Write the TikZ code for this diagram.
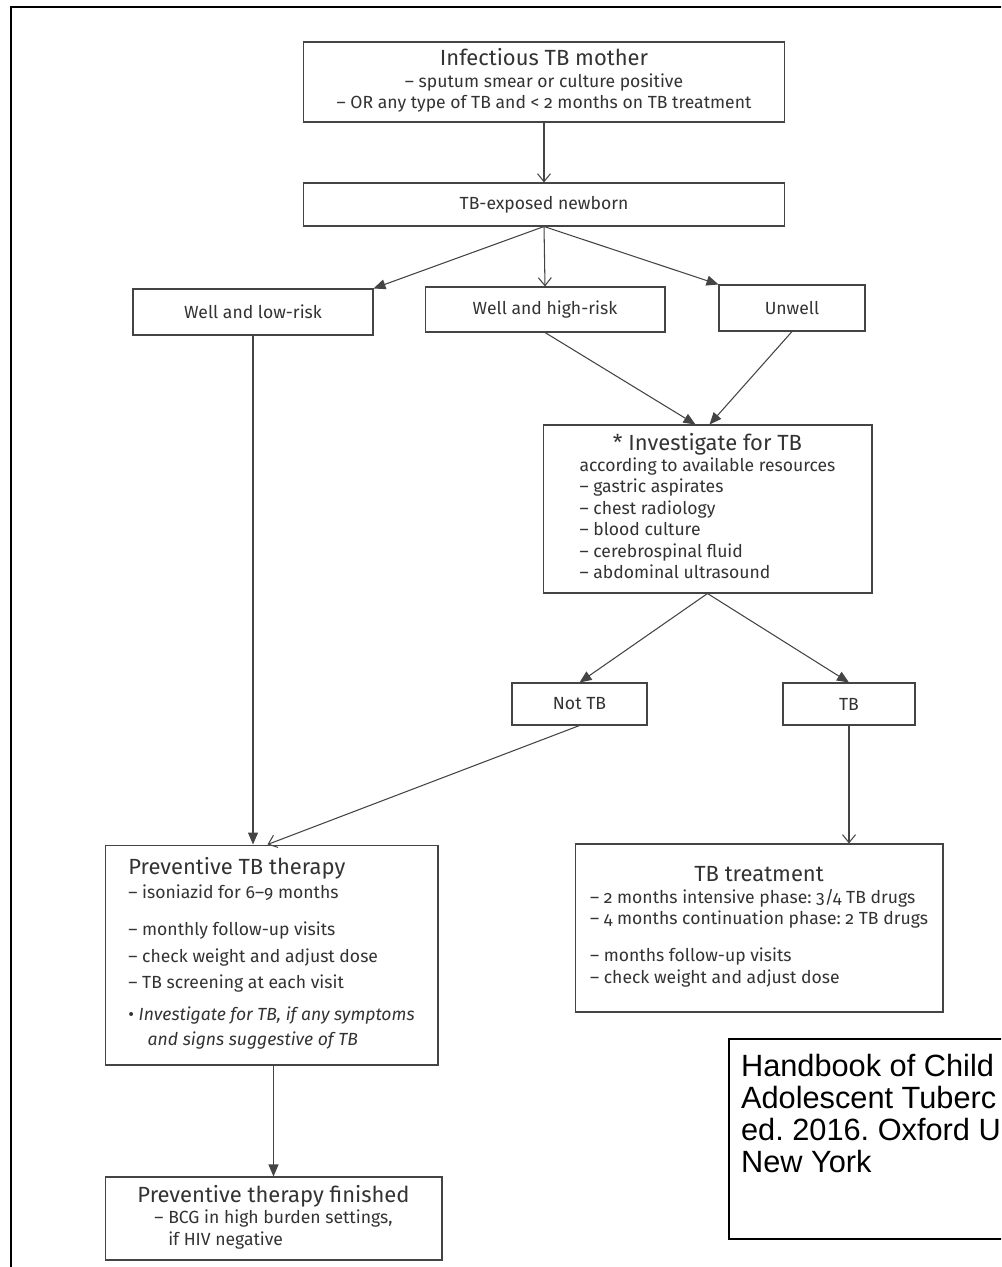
\documentclass[tikz,border=0pt]{standalone}
\usepackage{fontspec}
\setmainfont{Fira Sans}[Numbers=OldStyle]
\newfontfamily\citefont{Liberation Sans}
\usetikzlibrary{calc,arrows.meta,positioning}
\definecolor{inkc}{HTML}{333333}
\definecolor{linec}{HTML}{444444}
\newcommand{\ttl}{\fontsize{12.5}{15}\selectfont}
\tikzset{
  ar/.style={-{Triangle[length=2.4mm,width=2mm]},semithick,linec},
  arv/.style={-{Straight Barb[length=1.6mm,width=2.6mm]},semithick,linec},
  box/.style={draw=linec,semithick,fill=white,inner sep=0pt,text=inkc,
    font=\fontsize{10}{12.2}\selectfont}
}
\frenchspacing
\begin{document}
\begin{tikzpicture}[x=0.02cm,y=-0.02cm]
\useasboundingbox (0,0) rectangle (1001,1267);
\clip (0,0) rectangle (1001,1267);
\fill[white] (0,0) rectangle (1001,1267);
\draw[black,line width=1.2pt] (11,1300) -- (11,7) -- (1030,7);

\node[box,minimum width=9.64cm,minimum height=1.6cm] (mother) at (544,82)
  {\begin{tabular}{@{}c@{}}{\ttl Infectious TB mother}\\
   -- sputum smear or culture positive\\
   -- OR any type of TB and < 2 months on TB treatment\end{tabular}};
\node[box,minimum width=9.64cm,minimum height=0.86cm] (newborn) at (544,204.5) {TB-exposed newborn};
\node[box,minimum width=4.8cm,minimum height=0.92cm] (lowrisk) at (253,312) {Well and low-risk};
\node[box,minimum width=4.8cm,minimum height=0.9cm] (highrisk) at (545,309.5) {Well and high-risk};
\node[box,minimum width=2.92cm,minimum height=0.92cm] (unwell) at (792,308) {Unwell};
\node[box,minimum width=6.58cm,minimum height=3.36cm] (inv) at (707.5,509)
  {\begin{tabular}{@{}l@{}}\multicolumn{1}{c}{\ttl * Investigate for TB}\\
   according to available resources\\
   -- gastric aspirates\\
   -- chest radiology\\
   -- blood culture\\
   -- cerebrospinal fluid\\
   -- abdominal ultrasound\end{tabular}};
\node[box,minimum width=2.7cm,minimum height=0.84cm] (nottb) at (579.5,704) {Not TB};
\node[box,minimum width=2.64cm,minimum height=0.84cm] (tb) at (849,704) {TB};
\node[box,minimum width=6.66cm,minimum height=4.4cm] (prevent) at (271.5,955)
  {\begin{tabular}{@{}l@{}}{\ttl Preventive TB therapy}\\[1pt]
   -- isoniazid for 6--9 months\\[9pt]
   -- monthly follow-up visits\\[3pt]
   -- check weight and adjust dose\\[3pt]
   -- TB screening at each visit\\[6pt]
   \textbullet\ \textit{Investigate for TB, if any symptoms}\\[2pt]
   \hspace*{1.1em}\textit{and signs suggestive of TB}\end{tabular}};
\node[box,minimum width=6.74cm,minimum height=1.66cm] (finished) at (273.5,1218.5)
  {\begin{tabular}{@{}c@{}}{\ttl Preventive therapy finished}\\
   \begin{tabular}[t]{@{}l@{}}-- BCG in high burden settings,\\
   \phantom{-- }if HIV negative\end{tabular}\end{tabular}};
\node[box,minimum width=7.36cm,minimum height=3.36cm] (treat) at (759,928)
  {\begin{tabular}{@{}l@{}}\multicolumn{1}{c}{\ttl TB treatment}\\
   -- 2 months intensive phase: 3/4 TB drugs\\
   -- 4 months continuation phase: 2 TB drugs\\[9pt]
   -- months follow-up visits\\
   -- check weight and adjust dose\end{tabular}};
\node[draw=black,line width=1.2pt,fill=white,anchor=north west,inner sep=0pt,
  font=\citefont\fontsize{17.5}{18.2}\selectfont] (cite) at (728,1038)
  {\parbox[c][4cm][t]{6.4cm}{\vspace{0.3cm}\hspace*{0.24cm}\begin{tabular}[t]{@{}l@{}}
   Handbook of Child\\Adolescent Tuberc\\ed. 2016. Oxford U\\New York\end{tabular}}};

\draw[arv] (mother.south) -- (newborn.north);
\draw[ar] (newborn.south) -- (lowrisk.north east);
\draw[arv] (newborn.south) -- (highrisk.north);
\draw[ar] (newborn.south) -- (unwell.north west);
\draw[ar] (highrisk.south) -- ($(inv.north)+(-12,0)$);
\draw[ar] (unwell.south) -- ($(inv.north)+(2,0)$);
\draw[ar] (inv.south) -- (nottb.north);
\draw[ar] (inv.south) -- (tb.north);
\draw[ar] (lowrisk.south) -- (lowrisk.south |- prevent.north);
\draw[arv] (nottb.south) -- ($(prevent.north)+(-4,0)$);
\draw[arv] (tb.south) -- (tb.south |- treat.north);
\draw[ar] (finished.north |- prevent.south) -- (finished.north);
\end{tikzpicture}
\end{document}
